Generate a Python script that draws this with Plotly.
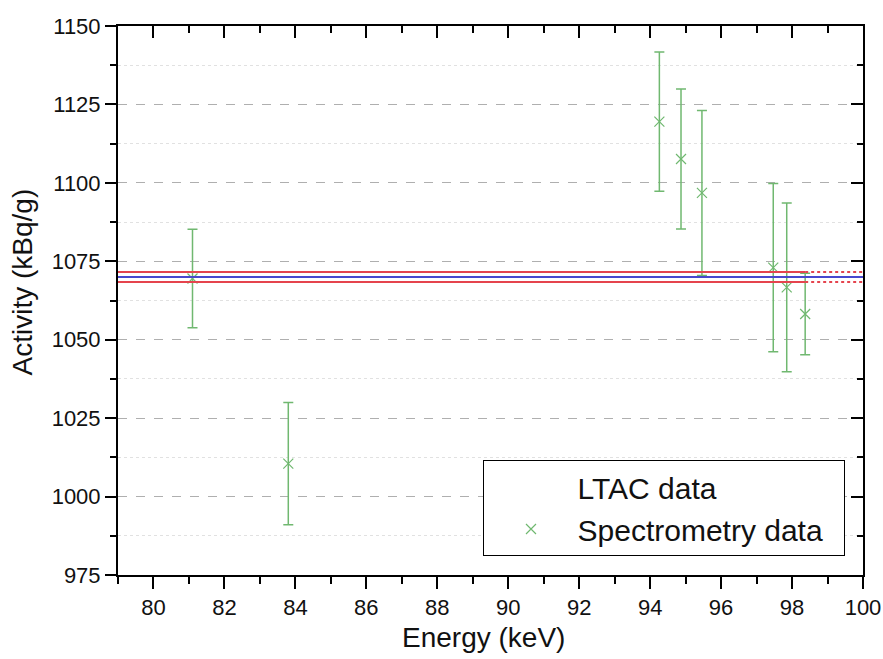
import plotly.graph_objects as go

# ---- data ----
energy_kev = [81.1, 83.8, 94.26, 94.87, 95.46, 97.47, 97.85, 98.37]
activity = [1069.5, 1010.5, 1119.5, 1107.6, 1096.8, 1073.0, 1066.7, 1058.2]
activity_err = [15.7, 19.5, 22.2, 22.3, 26.3, 26.8, 26.9, 13.0]
ltac_value = 1070.0
ltac_unc = 1.6
x_range = [79, 100]
y_range = [975, 1150]
x_title = "Energy (keV)"
y_title = "Activity (kBq/g)"
series_names = ["LTAC data", "Spectrometry data"]

green = "rgb(112,184,112)"
red = "rgb(229,68,78)"
blue = "rgb(72,72,206)"
font_family = "Liberation Sans, Arial, sans-serif"

fig = go.Figure()

# legend-only entry for LTAC data (no visible symbol)
fig.add_trace(go.Scatter(x=[None], y=[None], mode="markers", name=series_names[0],
                         marker=dict(color="rgba(0,0,0,0)", size=1)))

fig.add_trace(go.Scatter(
    x=energy_kev, y=activity, mode="markers", name=series_names[1] + "&nbsp;&nbsp;",
    marker=dict(symbol="x-thin", size=10, line=dict(color=green, width=1.2), color=green),
    error_y=dict(type="data", array=activity_err, color=green, thickness=1.5, width=5),
))

x_last = max(energy_kev)
for val, col in [(ltac_value + ltac_unc, red), (ltac_value - ltac_unc, red)]:
    fig.add_trace(go.Scatter(x=[x_range[0], x_last], y=[val, val], mode="lines",
                             line=dict(color=col, width=2), showlegend=False, hoverinfo="skip"))
    fig.add_trace(go.Scatter(x=[x_last, x_range[1]], y=[val, val], mode="lines",
                             line=dict(color=col, width=2, dash="dot"), showlegend=False, hoverinfo="skip"))
fig.add_trace(go.Scatter(x=x_range, y=[ltac_value, ltac_value], mode="lines",
                         line=dict(color=blue, width=2), showlegend=False, hoverinfo="skip"))

# dummy trace for mirrored axes
fig.add_trace(go.Scatter(x=[None], y=[None], xaxis="x2", yaxis="y2", showlegend=False))

axis_font = dict(family=font_family, size=22, color="#111111")
title_font = dict(family=font_family, size=28, color="#111111")

fig.update_layout(
    width=883, height=659,
    margin=dict(l=118, r=20, t=26, b=84),
    paper_bgcolor="white", plot_bgcolor="white",
    font=dict(family=font_family, color="#111111"),
    xaxis=dict(range=x_range, dtick=2, tick0=80, ticks="outside", ticklen=12, tickwidth=2,
               tickcolor="black", showline=True, linecolor="black", linewidth=2,
               showgrid=False, zeroline=False, tickfont=axis_font, automargin=False,
               minor=dict(dtick=1, tick0=79, ticks="outside", ticklen=7, tickwidth=2, tickcolor="black", showgrid=False)),
    yaxis=dict(range=y_range, dtick=25, tick0=975, ticks="outside", ticklen=11, tickwidth=2,
               tickcolor="black", showline=True, linecolor="black", linewidth=2,
               showgrid=True, gridcolor="rgb(175,175,175)", griddash="dash", gridwidth=1,
               zeroline=False, tickfont=axis_font, automargin=False,
               minor=dict(dtick=12.5, tick0=975, ticks="outside", ticklen=6, tickwidth=2, tickcolor="black",
                          showgrid=True, gridcolor="rgb(225,225,225)", griddash="dot", gridwidth=1)),
    xaxis2=dict(range=x_range, overlaying="x", side="top", dtick=2, tick0=80, ticks="inside", ticklen=12,
                tickwidth=2, tickcolor="black", showline=True, linecolor="black", linewidth=2,
                showticklabels=False, showgrid=False, zeroline=False, automargin=False,
                minor=dict(dtick=1, tick0=79, ticks="inside", ticklen=7, tickwidth=2, tickcolor="black", showgrid=False)),
    yaxis2=dict(range=y_range, overlaying="y", side="right", dtick=25, tick0=975, ticks="inside", ticklen=12,
                tickwidth=2, tickcolor="black", showline=True, linecolor="black", linewidth=2,
                showticklabels=False, showgrid=False, zeroline=False, automargin=False,
                minor=dict(dtick=12.5, tick0=975, ticks="inside", ticklen=6, tickwidth=2, tickcolor="black", showgrid=False)),
    legend=dict(x=0.4906, y=0.2095, xanchor="left", yanchor="top", bordercolor="black", borderwidth=1,
                bgcolor="white", font=dict(family=font_family, size=30, color="#111111"),
                itemwidth=83, tracegroupgap=0),
    showlegend=True,
    annotations=[
        dict(text=x_title, xref="paper", yref="paper", x=0.49, y=-0.113, xanchor="center", yanchor="middle",
             showarrow=False, font=title_font),
        dict(text=y_title, xref="paper", yref="paper", x=-0.128, y=0.534, xanchor="center", yanchor="middle",
             textangle=-90, showarrow=False, font=title_font),
    ],
)

fig.write_html("out.html", config={"displayModeBar": False})

# remove the default 8px body margin so the figure sits at the page origin
with open("out.html", "r", encoding="utf-8") as f:
    html = f.read()
html = html.replace("<body>", '<body style="margin:0;padding:0;">', 1)
with open("out.html", "w", encoding="utf-8") as f:
    f.write(html)
